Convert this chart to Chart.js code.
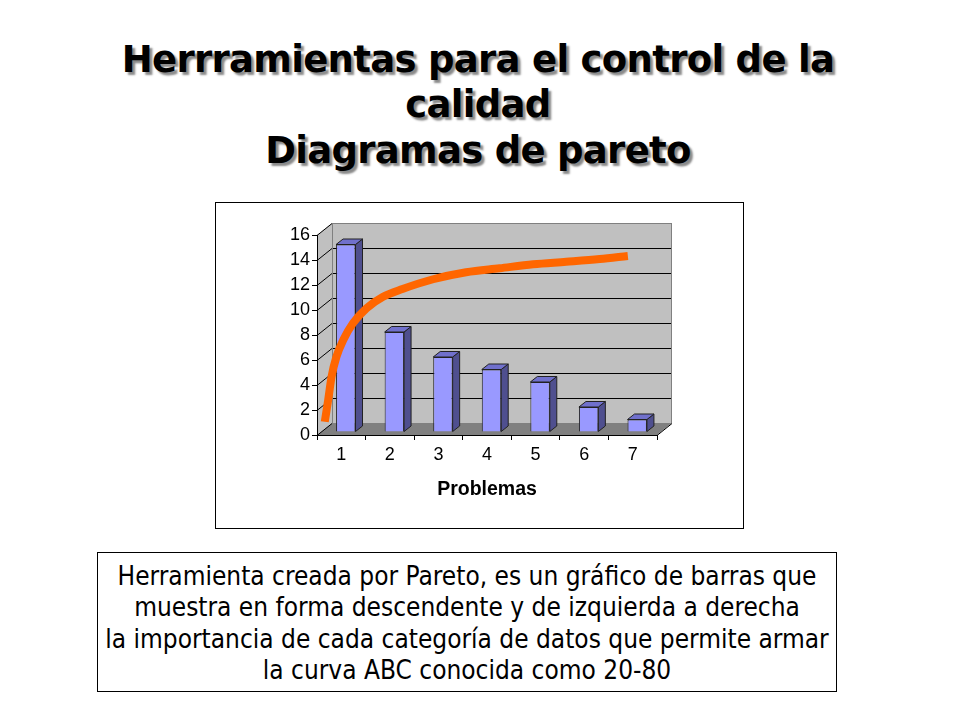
<!DOCTYPE html>
<html>
<head>
<meta charset="utf-8">
<script src="https://cdn.jsdelivr.net/npm/chart.js@4"></script>
<style>
  body { margin: 0; background: #fff; width: 960px; height: 720px; position: relative; overflow: hidden; }
  #titulo {
    position: absolute; left: 0; top: 37px; width: 956px; text-align: center;
    font-family: "DejaVu Sans", Verdana, sans-serif; font-weight: bold; font-size: 37px;
    letter-spacing: -0.7px; line-height: 45.3px; color: #000;
    text-shadow: 3px 3px 2px #8a8a8a;
  }
  #marco {
    position: absolute; left: 215px; top: 202px; width: 527px; height: 325px;
    border: 1px solid #000; background: #fff;
  }
  #texto {
    position: absolute; left: 97px; top: 552px; width: 740px; height: 140px; box-sizing: border-box;
    border: 1px solid #000; padding-top: 8px; text-align: center;
    font-family: "DejaVu Sans Condensed", "DejaVu Sans", sans-serif; font-stretch: condensed;
    font-size: 26px; line-height: 31.3px; color: #000;
  }
</style>
</head>
<body>
<div id="titulo">Herrramientas para el control de la<br>calidad<br>Diagramas de pareto</div>
<div id="marco"><canvas id="myChart" width="527" height="325"></canvas></div>
<div id="texto">Herramienta creada por Pareto, es un gráfico de barras que<br>muestra en forma descendente y de izquierda a derecha<br>la importancia de cada categoría de datos que permite armar<br>la curva ABC conocida como 20-80</div>
<script>
// datos del grafico
let categorias = ['1', '2', '3', '4', '5', '6', '7'];
let problemas = [15, 8, 6, 5, 4, 2, 1];
// curva naranja dibujada a mano (x en unidades de categoria)
let curvaX = [0.66, 0.73, 0.80, 0.90, 1.04, 1.24, 1.52, 1.86, 2.26, 2.89, 3.57, 4.26, 4.95, 5.63, 6.32, 6.90];
let curvaY = [1.06, 2.8, 4.66, 6.26, 7.6, 8.94, 10.14, 11.06, 11.68, 12.46, 13.02, 13.34, 13.66, 13.86, 14.08, 14.32];

let puntosCurva = curvaX.map((x, i) => ({ x: x, y: curvaY[i] }));

// profundidad de la pared del fondo y de las barras
const fondoDx = 15, fondoDy = 12;
const barraDx = 7, barraDy = 5.5;
const barraOffX = 4.5, barraOffY = -3;

const paredes3d = {
    id: 'paredes3d',
    beforeDraw(chart) {
        const ctx = chart.ctx;
        const ca = chart.chartArea;
        const y = chart.scales.y;
        ctx.save();
        // pared del fondo
        ctx.fillStyle = '#c0c0c0';
        ctx.fillRect(ca.left + fondoDx, ca.top - fondoDy, ca.right - ca.left, ca.bottom - ca.top);
        // pared lateral
        ctx.beginPath();
        ctx.moveTo(ca.left, ca.top);
        ctx.lineTo(ca.left + fondoDx, ca.top - fondoDy);
        ctx.lineTo(ca.left + fondoDx, ca.bottom - fondoDy);
        ctx.lineTo(ca.left, ca.bottom);
        ctx.closePath();
        ctx.fill();
        // piso
        ctx.fillStyle = '#808080';
        ctx.beginPath();
        ctx.moveTo(ca.left, ca.bottom);
        ctx.lineTo(ca.right, ca.bottom);
        ctx.lineTo(ca.right + fondoDx, ca.bottom - fondoDy);
        ctx.lineTo(ca.left + fondoDx, ca.bottom - fondoDy);
        ctx.closePath();
        ctx.fill();
        // lineas de division
        ctx.lineWidth = 1;
        y.ticks.forEach(t => {
            const py = Math.round(y.getPixelForValue(t.value)) + 0.5;
            ctx.strokeStyle = (t.value === y.max) ? '#808080' : '#000';
            if (t.value !== 0) {
                ctx.beginPath();
                ctx.moveTo(ca.left + fondoDx, py - fondoDy);
                ctx.lineTo(ca.right + fondoDx, py - fondoDy);
                ctx.stroke();
            }
            ctx.strokeStyle = '#000';
            ctx.beginPath();
            ctx.moveTo(ca.left, py);
            ctx.lineTo(ca.left + fondoDx, py - fondoDy);
            ctx.stroke();
        });
        // bordes grises de las paredes
        ctx.strokeStyle = '#808080';
        ctx.beginPath();
        ctx.moveTo(ca.left + fondoDx + 0.5, ca.top - fondoDy);
        ctx.lineTo(ca.left + fondoDx + 0.5, ca.bottom - fondoDy);
        ctx.moveTo(ca.right + fondoDx - 0.5, ca.top - fondoDy);
        ctx.lineTo(ca.right + fondoDx - 0.5, ca.bottom - fondoDy);
        ctx.stroke();
        // borde derecho del piso
        ctx.strokeStyle = '#000';
        ctx.beginPath();
        ctx.moveTo(ca.right, ca.bottom + 0.5);
        ctx.lineTo(ca.right + fondoDx, ca.bottom - fondoDy + 0.5);
        ctx.stroke();
        ctx.restore();
    },
    beforeDatasetDraw(chart, args) {
        if (args.meta.type !== 'bar') return;
        const ctx = chart.ctx;
        ctx.save();
        ctx.translate(barraOffX, barraOffY);
        ctx.lineWidth = 1;
        ctx.strokeStyle = '#222';
        args.meta.data.forEach(bar => {
            const p = bar.getProps(['x', 'y', 'base', 'width'], true);
            const l = p.x - p.width / 2, r = p.x + p.width / 2;
            // cara lateral
            ctx.fillStyle = '#4f4f8f';
            ctx.beginPath();
            ctx.moveTo(r, p.y);
            ctx.lineTo(r + barraDx, p.y - barraDy);
            ctx.lineTo(r + barraDx, p.base - barraDy);
            ctx.lineTo(r, p.base);
            ctx.closePath();
            ctx.fill();
            ctx.stroke();
            // cara superior
            ctx.fillStyle = '#7070cc';
            ctx.beginPath();
            ctx.moveTo(l, p.y);
            ctx.lineTo(l + barraDx, p.y - barraDy);
            ctx.lineTo(r + barraDx, p.y - barraDy);
            ctx.lineTo(r, p.y);
            ctx.closePath();
            ctx.fill();
            ctx.stroke();
        });
    },
    afterDatasetDraw(chart, args) {
        if (args.meta.type !== 'bar') return;
        chart.ctx.restore();
    }
};

var ctx = document.getElementById('myChart').getContext('2d');
var chart = new Chart(ctx, {
    type: 'bar',
    data: {
        labels: categorias,
        datasets: [{
            type: 'line',
            label: 'Curva',
            data: puntosCurva,
            xAxisID: 'xc',
            borderColor: '#ff6600',
            borderWidth: 8,
            borderCapStyle: 'butt',
            pointRadius: 0,
            cubicInterpolationMode: 'monotone',
            fill: false,
            clip: false,
            order: 0
        }, {
            label: 'Problemas',
            data: problemas,
            backgroundColor: '#9999ff',
            borderColor: '#222',
            borderWidth: 1,
            grouped: false,
            categoryPercentage: 1,
            barPercentage: 0.4,
            order: 1
        }]
    },
    options: {
        responsive: false,
        animation: false,
        devicePixelRatio: 1,
        layout: { padding: { left: 0, right: 86, top: 32, bottom: 0 } },
        plugins: { legend: { display: false }, tooltip: { enabled: false } },
        scales: {
            x: {
                type: 'category',
                offset: true,
                grid: { drawOnChartArea: false, offset: true, color: '#000', tickLength: 5 },
                border: { display: true, color: '#000' },
                ticks: { color: '#000', padding: 4, font: { family: 'Liberation Sans', size: 18 } },
                title: {
                    display: true, text: 'Problemas', color: '#000',
                    font: { family: 'Liberation Sans', size: 19.5, weight: 'bold' },
                    padding: { top: 0, bottom: 27 }
                },
                afterFit(scale) { scale.height = 93; }
            },
            xc: {
                type: 'linear',
                display: false,
                offset: false,
                grid: { offset: false },
                min: 0.5,
                max: 7.5
            },
            y: {
                min: 0,
                max: 16,
                ticks: { stepSize: 2, color: '#000', padding: 2, font: { family: 'Liberation Sans', size: 18 } },
                grid: { drawOnChartArea: false, color: '#000', tickLength: 5 },
                border: { display: true, color: '#000' },
                afterFit(scale) { scale.width = 101; }
            }
        }
    },
    plugins: [paredes3d]
});
</script>
</body>
</html>
